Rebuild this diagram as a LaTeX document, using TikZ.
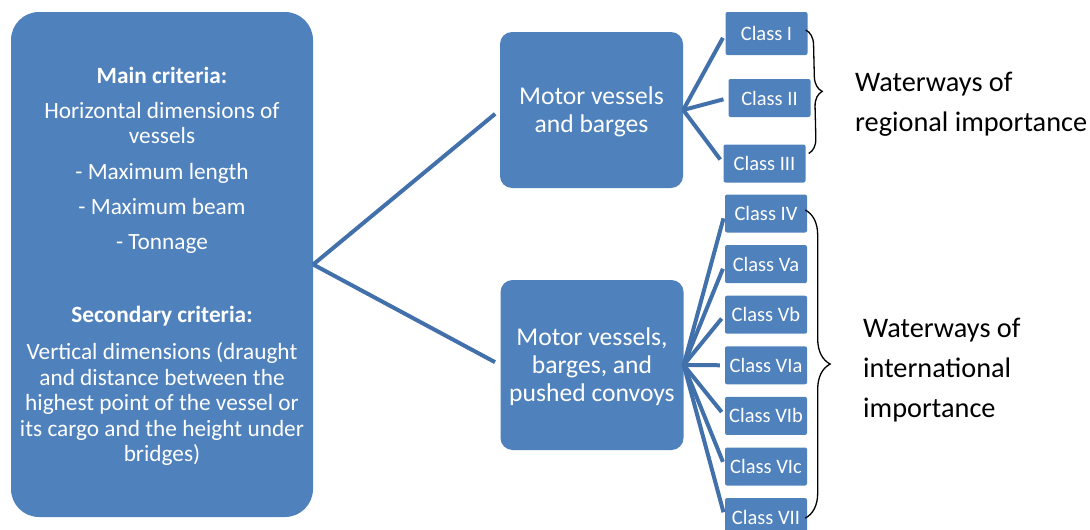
\documentclass[tikz,border=0pt]{standalone}
\usepackage{fontspec}
\setmainfont{Carlito}
\usetikzlibrary{decorations.pathreplacing}
\definecolor{boxblue}{RGB}{79,129,189}
\definecolor{linkblue}{RGB}{65,112,171}
\tikzset{
box/.style={fill=boxblue, text=white, align=center, inner sep=0pt}, % common look of the blue boxes
crit/.style={box, rounded corners=28pt, minimum width=302pt, minimum height=505pt, text depth=0pt, font=\fontsize{23.3}{25.5}\selectfont},
grp/.style={box, rounded corners=12pt, minimum width=183pt, text depth=0pt, font=\fontsize{25.6}{28}\selectfont},
cls/.style={box, rounded corners=2pt, minimum width=82pt, minimum height=38pt, font=\fontsize{20.5}{24}\selectfont},
link/.style={draw=linkblue, line width=4pt}, % the thick blue connectors
curly/.style={draw, line width=1.3pt, decorate, decoration={brace, amplitude=#1}},
note/.style={anchor=west, align=left, inner sep=0pt, font=\fontsize{28.3}{40}\selectfont},
}

\begin{document}
\begin{tikzpicture}[x=1pt, y=-1pt]
\useasboundingbox (0,0) rectangle (1090,530);
% criteria box
\node[crit] (crit) at (162,264.5) {\textbf{Main criteria:}\\[9.5pt]
  Horizontal dimensions of\\vessels\\[10.5pt]
  - Maximum length\\[9.5pt]
  - Maximum beam\\[9.5pt]
  - Tonnage\\[47.5pt]
  \textbf{Secondary criteria:}\\[11.5pt]
  Vertical dimensions (draught\\and distance between the\\highest point of the vessel or\\its cargo and the height under\\bridges)};
% vessel groups
\node[grp, minimum height=156pt] (reg) at (591.5,110) {Motor vessels\\and barges};
\node[grp, minimum height=170pt] (intl) at (592,365) {Motor vessels,\\barges, and\\pushed convoys};
% classes
\node[cls, minimum height=43pt] (c1) at (766.5,33.5) {Class I};
\node[cls, below of=c1, node distance=64.5pt, xshift=3pt] (c2) {Class II};
\node[cls, below of=c2, node distance=65.5pt, xshift=-5pt] (c3) {Class III};
\node[cls] (c4) at (766,213.5) {Class IV};
\node[cls, below of=c4, node distance=50.6pt] (c5) {Class Va};
\node[cls, below of=c5, node distance=50.6pt] (c6) {Class Vb};
\node[cls, below of=c6, node distance=50.6pt] (c7) {Class VIa};
\node[cls, below of=c7, node distance=50.6pt] (c8) {Class VIb};
\node[cls, below of=c8, node distance=50.6pt] (c9) {Class VIc};
\node[cls, below of=c9, node distance=50.6pt] (c10) {Class VII};
% connectors
\draw[link, shorten >=6pt] (crit.east) -- (reg.west);
\draw[link, shorten >=6pt] (crit.east) -- (intl.west);
\foreach \c in {c1,c2,c3}
  \draw[link, shorten >=5pt] (reg.east) -- (\c.west);
\foreach \c in {c4,c5,c6,c7,c8,c9,c10}
  \draw[link, shorten >=5pt] (intl.east) -- (\c.west);
% braces and notes
\draw[curly=15pt] ([xshift=-2pt,yshift=3.5pt]c1.east) -- ([xshift=3pt,yshift=10pt]c3.east);
\draw[curly=25pt] ([xshift=-2pt,yshift=3.5pt]c4.east) -- ([xshift=-2pt,yshift=-1pt]c10.east);
\node[note] (regnote) at (855,104) {Waterways of\\regional importance};
\node[note] (intlnote) at (863,370) {Waterways of\\international\\importance};
\end{tikzpicture}
\end{document}
